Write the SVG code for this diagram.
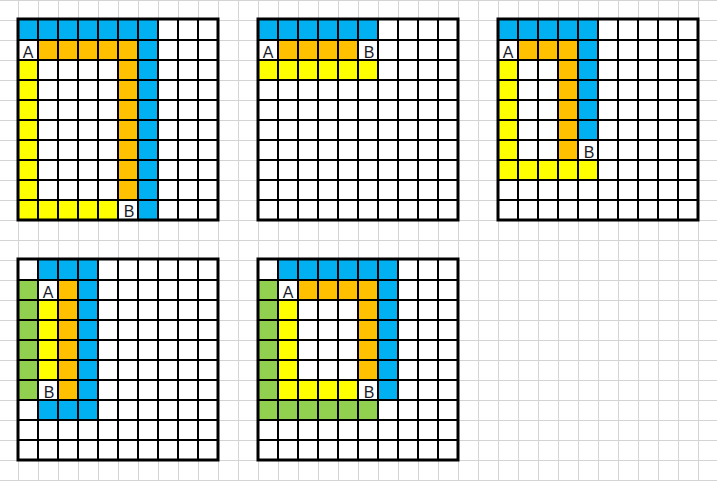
<svg xmlns="http://www.w3.org/2000/svg" xmlns:xlink="http://www.w3.org/1999/xlink" width="717" height="481" viewBox="0 0 717 481">
<style>
.bg{fill:#fff}
.b{fill:#00B0F0}
.o{fill:#FFC000}
.y{fill:#FFFF00}
.g{fill:#92D050}
.lines{fill:none;stroke:#000;stroke-width:2}
.frame{fill:none;stroke:#000;stroke-width:3}
.lbl{font-family:"Liberation Sans",Arial,sans-serif;font-size:16px;fill:#1a1a2a;text-anchor:middle}
</style>
<defs>
<pattern id="paper" x="18" y="0" width="20" height="20" patternUnits="userSpaceOnUse">
<path d="M0.5 0V20M0 0.5H20" stroke="#d4d4d4" stroke-width="1" fill="none"/>
</pattern>
<path id="grid" class="lines" d="M20 0V200M40 0V200M60 0V200M80 0V200M100 0V200M120 0V200M140 0V200M160 0V200M180 0V200M0 20H200M0 40H200M0 60H200M0 80H200M0 100H200M0 120H200M0 140H200M0 160H200M0 180H200"/>
<rect id="frame" class="frame" x="0" y="-1" width="200" height="201"/>
<rect id="sheet" class="bg" x="0" y="0" width="200" height="200"/>
</defs>
<rect width="717" height="481" fill="#fff"/>
<rect width="717" height="481" fill="url(#paper)"/>

<g id="box1" transform="translate(18,20)">
<use xlink:href="#sheet"/>
<rect class="b" x="0" y="0" width="140" height="20"/>
<rect class="b" x="120" y="20" width="20" height="180"/>
<rect class="o" x="20" y="20" width="100" height="20"/>
<rect class="o" x="100" y="40" width="20" height="140"/>
<rect class="y" x="0" y="40" width="20" height="160"/>
<rect class="y" x="20" y="180" width="80" height="20"/>
<use xlink:href="#grid"/>
<use xlink:href="#frame"/>
<text class="lbl" x="10" y="37.5">A</text>
<text class="lbl" x="111" y="197">B</text>
</g>

<g id="box2" transform="translate(258,20)">
<use xlink:href="#sheet"/>
<rect class="b" x="0" y="0" width="120" height="20"/>
<rect class="o" x="20" y="20" width="80" height="20"/>
<rect class="y" x="0" y="40" width="120" height="20"/>
<use xlink:href="#grid"/>
<use xlink:href="#frame"/>
<text class="lbl" x="10" y="37.5">A</text>
<text class="lbl" x="111" y="37.5">B</text>
</g>

<g id="box3" transform="translate(498,20)">
<use xlink:href="#sheet"/>
<rect class="b" x="0" y="0" width="100" height="20"/>
<rect class="b" x="80" y="20" width="20" height="100"/>
<rect class="o" x="20" y="20" width="60" height="20"/>
<rect class="o" x="60" y="40" width="20" height="100"/>
<rect class="y" x="0" y="40" width="20" height="120"/>
<rect class="y" x="20" y="140" width="80" height="20"/>
<use xlink:href="#grid"/>
<use xlink:href="#frame"/>
<text class="lbl" x="10" y="37.5">A</text>
<text class="lbl" x="91" y="137.5">B</text>
</g>

<g id="box4" transform="translate(18,260)">
<use xlink:href="#sheet"/>
<rect class="b" x="20" y="0" width="60" height="20"/>
<rect class="b" x="60" y="20" width="20" height="120"/>
<rect class="b" x="20" y="140" width="60" height="20"/>
<rect class="g" x="0" y="20" width="20" height="120"/>
<rect class="y" x="20" y="40" width="20" height="80"/>
<rect class="o" x="40" y="20" width="20" height="120"/>
<use xlink:href="#grid"/>
<use xlink:href="#frame"/>
<text class="lbl" x="30" y="37.5">A</text>
<text class="lbl" x="31" y="137.5">B</text>
</g>

<g id="box5" transform="translate(258,260)">
<use xlink:href="#sheet"/>
<rect class="b" x="20" y="0" width="120" height="20"/>
<rect class="b" x="120" y="20" width="20" height="120"/>
<rect class="o" x="40" y="20" width="80" height="20"/>
<rect class="o" x="100" y="40" width="20" height="80"/>
<rect class="y" x="20" y="40" width="20" height="100"/>
<rect class="y" x="40" y="120" width="60" height="20"/>
<rect class="g" x="0" y="20" width="20" height="140"/>
<rect class="g" x="20" y="140" width="100" height="20"/>
<use xlink:href="#grid"/>
<use xlink:href="#frame"/>
<text class="lbl" x="30" y="37.5">A</text>
<text class="lbl" x="111" y="137.5">B</text>
</g>
</svg>
